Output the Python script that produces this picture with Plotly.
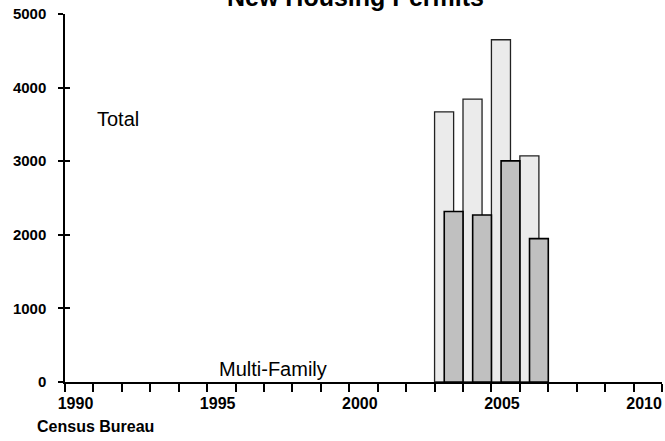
import plotly.graph_objects as go

years = [2003, 2004, 2005, 2006]
total_permits = [3671, 3844, 4650, 3072]
multi_family = [2316, 2269, 3004, 1948]

x_label_years = [1990, 1995, 2000, 2005, 2010]
x_tick_text = ["1990", "1995", "2000", "2005", "2010"]
y_tick_vals = [0, 1000, 2000, 3000, 4000, 5000]
y_tick_text = ["0", "1000", "2000", "3000", "4000", "5000"]

FONT = "Liberation Sans, Arial, sans-serif"

fig = go.Figure()
fig.add_trace(go.Bar(
    x=years, y=total_permits, offset=0.0, width=0.67,
    marker=dict(color="#ebebeb", line=dict(color="#222222", width=1.3)),
    name="Total", showlegend=False,
))
fig.add_trace(go.Bar(
    x=years, y=multi_family, offset=0.34, width=0.66,
    marker=dict(color="#c0c0c0", line=dict(color="#000000", width=1.6)),
    name="Multi-Family", showlegend=False,
))
# invisible trace on overlay axis for crossing y ticks
fig.add_trace(go.Scatter(x=[1990], y=[0], yaxis="y2", mode="markers",
                         marker=dict(opacity=0), showlegend=False, hoverinfo="skip"))

fig.update_layout(
    width=665, height=441,
    margin=dict(l=65, r=3, t=14, b=59, autoexpand=False),
    paper_bgcolor="white", plot_bgcolor="white",
    barmode="overlay",
    font=dict(family=FONT, color="black"),
    xaxis=dict(
        range=[1990, 2011], showgrid=False, zeroline=False, automargin=False,
        showline=True, linecolor="black", linewidth=1.5,
        tickmode="array", tickvals=[y + 0.37 for y in x_label_years], ticktext=x_tick_text,
        ticks="", ticklabelstandoff=6,
        tickfont=dict(size=16, weight="bold", family=FONT, color="black"),
        minor=dict(tickmode="linear", tick0=1990, dtick=1, ticks="outside",
                   ticklen=8, tickwidth=1.5, tickcolor="black"),
    ),
    yaxis=dict(
        range=[0, 5000], showgrid=False, zeroline=False, automargin=False,
        showline=True, linecolor="black", linewidth=1.5,
        tickmode="array", tickvals=y_tick_vals, ticktext=y_tick_text,
        ticks="outside", ticklen=5, tickwidth=1.5, tickcolor="black",
        ticklabelstandoff=9,
        tickfont=dict(size=15, weight="bold", family=FONT, color="black"),
    ),
    yaxis2=dict(
        range=[0, 5000], overlaying="y", side="left", showgrid=False, zeroline=False,
        showline=False, tickmode="array", tickvals=y_tick_vals, automargin=False,
        ticks="inside", ticklen=5, tickwidth=1.5, tickcolor="black",
        showticklabels=False,
    ),
    annotations=[
        dict(text="<b>New Housing Permits</b>", x=0.486, y=1.003, xref="paper", yref="paper",
             showarrow=False, xanchor="center", yanchor="bottom",
             font=dict(size=25, family=FONT, color="black")),
        dict(text="Total", x=1991.85, y=3571, xref="x", yref="y",
             showarrow=False, xanchor="center", yanchor="middle",
             font=dict(size=20, family=FONT, color="black")),
        dict(text="Multi-Family", x=1997.3, y=0, xref="x", yref="y",
             showarrow=False, xanchor="center", yanchor="bottom",
             font=dict(size=20, family=FONT, color="black")),
        dict(text="<b>Census Bureau</b>", x=-0.05, y=-0.122, xref="paper", yref="paper",
             showarrow=False, xanchor="left", yanchor="middle",
             font=dict(size=16, family=FONT, color="black")),
    ],
)

fig.write_html("out.html", config={"displayModeBar": False},
               post_script="document.body.style.margin='0';document.body.style.overflow='hidden';")
